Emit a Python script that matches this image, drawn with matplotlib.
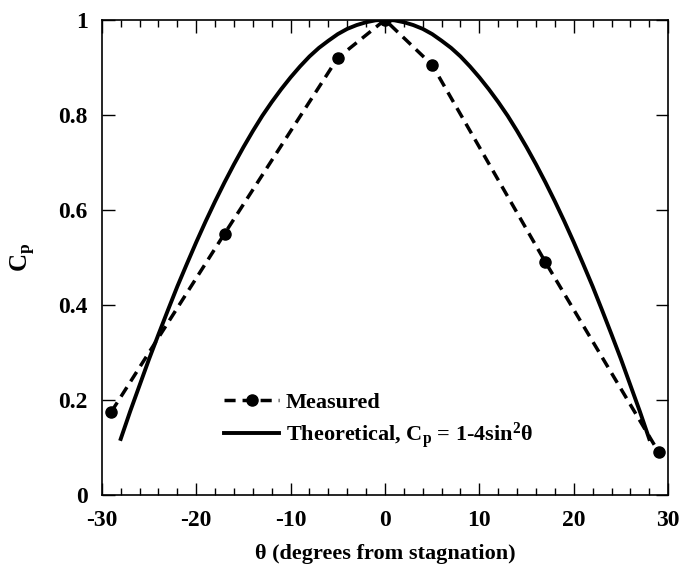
import matplotlib
matplotlib.use("Agg")
import matplotlib.pyplot as plt
from matplotlib.ticker import MultipleLocator

plt.rcParams['font.family'] = ['Liberation Serif', 'DejaVu Serif']
plt.rcParams['font.weight'] = 'bold'
plt.rcParams['mathtext.fontset'] = 'custom'
plt.rcParams['mathtext.rm'] = 'Liberation Serif:bold'
plt.rcParams['mathtext.it'] = 'Liberation Serif:bold'
plt.rcParams['mathtext.bf'] = 'Liberation Serif:bold'

# Measured data
theta_meas = [-29, -17, -5, 0, 5, 17, 29]
cp_meas = [0.175, 0.55, 0.92, 1.0, 0.905, 0.49, 0.09]

# Theoretical curve values
theta_th = [-28, -27, -26, -25, -24, -23, -22, -21, -20, -19, -18, -17, -16, -15,
            -14, -13, -12, -11, -10, -9, -8, -7, -6, -5, -4, -3, -2, -1, 0,
            1, 2, 3, 4, 5, 6, 7, 8, 9, 10, 11, 12, 13, 14,
            15, 16, 17, 18, 19, 20, 21, 22, 23, 24, 25, 26, 27, 28]
cp_th = [0.118, 0.176, 0.231, 0.286, 0.338, 0.389, 0.439, 0.486, 0.532, 0.576,
         0.618, 0.658, 0.696, 0.732, 0.766, 0.798, 0.827, 0.854, 0.879, 0.902,
         0.923, 0.941, 0.956, 0.970, 0.981, 0.989, 0.995, 0.999, 1.0,
         0.999, 0.995, 0.989, 0.981, 0.970, 0.956, 0.941, 0.923, 0.902, 0.879,
         0.854, 0.827, 0.798, 0.766, 0.732, 0.696, 0.658, 0.618, 0.576, 0.532,
         0.486, 0.439, 0.389, 0.338, 0.286, 0.231, 0.176, 0.118]

xticks = [-30, -20, -10, 0, 10, 20, 30]
yticks = [0, 0.2, 0.4, 0.6, 0.8, 1.0]
yticklabels = ['0', '0.2', '0.4', '0.6', '0.8', '1']

fig = plt.figure(figsize=(6.79, 5.67), dpi=100)
ax = fig.add_axes([0.150, 0.127, 0.834, 0.838])

ax.plot(theta_meas, cp_meas, color='black', linestyle=(0, (3.2, 2.0)), linewidth=2.5,
        marker='o', markersize=8, label='Measured')
ax.plot(theta_th, cp_th, color='black', linestyle='-', linewidth=2.8,
        label=r'Theoretical, C$_{\mathrm{p}}$ = 1-4sin$^2$θ')

ax.set_xlim(-30, 30)
ax.set_ylim(0, 1)
ax.set_xticks(xticks)
ax.set_xticklabels([str(t) for t in xticks])
ax.set_yticks(yticks)
ax.set_yticklabels(yticklabels)
ax.xaxis.set_minor_locator(MultipleLocator(2))

ax.tick_params(axis='both', which='major', direction='in', length=9, width=1,
               top=True, right=True, labelsize=17)
ax.tick_params(axis='x', which='major', pad=11)
ax.tick_params(axis='y', which='major', pad=10)
ax.tick_params(axis='x', which='minor', direction='in', length=5, width=1,
               top=True, bottom=True)
for lab in ax.get_xticklabels() + ax.get_yticklabels():
    lab.set_fontweight('bold')
for s in ax.spines.values():
    s.set_linewidth(1.2)

ax.set_xlabel('θ (degrees from stagnation)', fontsize=16, fontweight='bold', labelpad=9)
ax.set_ylabel(r'C$_{\mathrm{p}}$', fontsize=18, fontweight='bold', labelpad=15)

leg = ax.legend(loc='lower left', bbox_to_anchor=(0.18, 0.05), frameon=False,
                handlelength=2.5, handletextpad=0.3, labelspacing=0.35,
                prop={'weight': 'bold', 'size': 16})

fig.savefig('out.png', dpi=100)
